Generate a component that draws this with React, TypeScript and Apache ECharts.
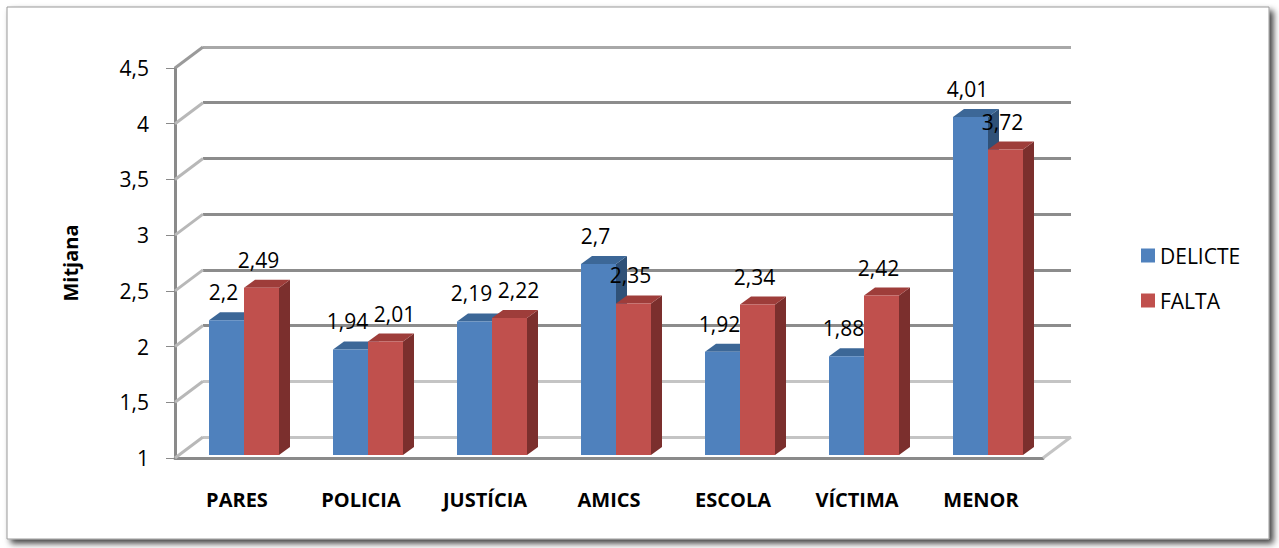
import React, { useEffect, useRef } from "react";
import * as echarts from "echarts";

const categories = ["PARES", "POLICIA", "JUSTÍCIA", "AMICS", "ESCOLA", "VÍCTIMA", "MENOR"];
const delicte = [2.2, 1.94, 2.19, 2.7, 1.92, 1.88, 4.01];
const falta = [2.49, 2.01, 2.22, 2.35, 2.34, 2.42, 3.72];
const yTicks = [1, 1.5, 2, 2.5, 3, 3.5, 4, 4.5];
const seriesNames = ["DELICTE", "FALTA"];

const FONT = "'Open Sans', Lato, 'Noto Sans', sans-serif";
const fmt = (v: number) => String(v).replace(".", ",");

const palette = [
  { front: "#4f81bd", top: "#3c6797", side: "#2f5178" },
  { front: "#c0504d", top: "#9e3d3a", side: "#7b2f2d" },
];

const BAR_W = 35;
const DX = 11;
const DY = -8;
const LABEL_UP = 28;
const LABEL_DX = -3;

function barRenderer(sIdx: number) {
  return (params: any, api: any) => {
    const idx = api.value(0);
    const v = api.value(1);
    const other = api.value(2);
    const top = api.coord([idx, v]);
    const base = api.coord([idx, 1]);
    const x0 = sIdx === 0 ? top[0] - BAR_W : top[0];
    const x1 = x0 + BAR_W;
    const yT = top[1];
    const yB = base[1];
    const c = palette[sIdx];
    let lx = (x0 + x1) / 2 + LABEL_DX;
    const ly = yT - LABEL_UP;
    if (sIdx === 1) {
      const oTop = api.coord([idx, other]);
      const oLx = x0 - BAR_W / 2 + LABEL_DX;
      const oLy = oTop[1] - LABEL_UP;
      if (Math.abs(oLy - ly) < 22) lx = Math.max(lx, oLx + 47);
    }
    return {
      type: "group",
      children: [
        {
          type: "polygon",
          shape: { points: [[x1, yT], [x1 + DX, yT + DY], [x1 + DX, yB + DY], [x1, yB]] },
          style: { fill: c.side },
        },
        {
          type: "polygon",
          shape: { points: [[x0, yT], [x0 + DX, yT + DY], [x1 + DX, yT + DY], [x1, yT]] },
          style: { fill: c.top },
        },
        {
          type: "rect",
          shape: { x: x0, y: yT, width: BAR_W, height: yB - yT },
          style: { fill: c.front },
        },
        {
          type: "text",
          x: lx,
          y: ly,
          style: {
            text: fmt(v),
            fill: "#000",
            font: `21px ${FONT}`,
            align: "center",
            verticalAlign: "middle",
          },
        },
      ],
    };
  };
}

export default function App() {
  const ref = useRef<HTMLDivElement>(null);
  useEffect(() => {
    if (!ref.current) return;
    const chart = echarts.init(ref.current, null, { renderer: "svg" });
    const catAxisHidden = {
      type: "category",
      data: categories,
      show: false,
    };
    chart.setOption({
      animation: false,
      backgroundColor: "#ffffff",
      textStyle: { fontFamily: FONT },
      graphic: [
        {
          type: "rect",
          shape: { x: 7, y: 7, width: 1262, height: 532 },
          style: {
            fill: "#ffffff",
            stroke: "#9a9a9a",
            lineWidth: 1,
            shadowColor: "rgba(0,0,0,0.75)",
            shadowBlur: 6,
            shadowOffsetX: 4,
            shadowOffsetY: 4,
          },
          z: -10,
          silent: true,
        },
      ],
      legend: {
        orient: "vertical",
        left: 1136,
        top: 240,
        itemWidth: 14,
        itemHeight: 14,
        itemGap: 24,
        icon: "rect",
        data: seriesNames,
        textStyle: { fontSize: 21, color: "#000", fontFamily: FONT },
      },
      grid: [
        { left: 175, top: 68, width: 868, height: 390 },
        { left: 203, top: 47, width: 868, height: 390 },
        { left: 182, top: 62, width: 868, height: 393 },
      ],
      xAxis: [
        {
          gridIndex: 0,
          type: "category",
          data: categories,
          axisLine: { show: true, lineStyle: { color: "#8a8a8a", width: 3 } },
          axisTick: { show: false },
          axisLabel: {
            margin: 31,
            fontSize: 20,
            fontWeight: "bold",
            color: "#000",
            fontFamily: FONT,
          },
        },
        { gridIndex: 1, ...catAxisHidden },
        { gridIndex: 2, ...catAxisHidden },
      ],
      yAxis: [
        {
          gridIndex: 0,
          type: "value",
          min: 1,
          max: 4.5,
          interval: 0.5,
          name: "Mitjana",
          nameLocation: "middle",
          nameGap: 95,
          nameTextStyle: { fontSize: 20, fontWeight: "bold", color: "#000", fontFamily: FONT },
          axisLine: { show: true, lineStyle: { color: "#8a8a8a", width: 3 } },
          axisTick: { show: true, length: 9, lineStyle: { color: "#8a8a8a", width: 1 } },
          axisLabel: {
            margin: 26,
            fontSize: 21,
            color: "#000",
            fontFamily: FONT,
            formatter: (v: number) => fmt(v),
          },
          splitLine: { show: false },
        },
        {
          gridIndex: 1,
          type: "value",
          min: 1,
          max: 4.5,
          interval: 0.5,
          axisLine: { show: false },
          axisTick: { show: false },
          axisLabel: { show: false },
          splitLine: {
            show: true,
            lineStyle: {
              width: 3,
              color: ["#c4c4c4", "#c4c4c4", "#8c8c8c", "#8c8c8c", "#8c8c8c", "#8c8c8c", "#8c8c8c", "#a8a8a8"],
            },
          },
        },
        {
          gridIndex: 2,
          type: "value",
          min: 1,
          max: 4.5,
          show: false,
          splitLine: { show: false },
        },
      ],
      series: [
        {
          type: "custom",
          name: "walls",
          xAxisIndex: 0,
          yAxisIndex: 0,
          silent: true,
          z: 1,
          data: yTicks.map((t) => [0, t]),
          renderItem: (params: any, api: any) => {
            const cs = params.coordSys;
            const p = api.coord([0, api.value(1)]);
            const children: any[] = [
              {
                type: "line",
                shape: { x1: cs.x, y1: p[1], x2: cs.x + 28, y2: p[1] - 21 },
                style: { stroke: api.value(1) === 4.5 ? "#9a9a9a" : "#b8b8b8", lineWidth: 3 },
              },
            ];
            if (api.value(1) === 1) {
              children.push({
                type: "line",
                shape: { x1: cs.x + cs.width, y1: p[1], x2: cs.x + cs.width + 28, y2: p[1] - 21 },
                style: { stroke: "#c4c4c4", lineWidth: 3 },
              });
            }
            return { type: "group", children };
          },
        },
        {
          type: "custom",
          name: seriesNames[0],
          xAxisIndex: 2,
          yAxisIndex: 2,
          z: 3,
          itemStyle: { color: palette[0].front },
          data: delicte.map((v, i) => [i, v, falta[i]]),
          renderItem: barRenderer(0),
        },
        {
          type: "custom",
          name: seriesNames[1],
          xAxisIndex: 2,
          yAxisIndex: 2,
          z: 4,
          itemStyle: { color: palette[1].front },
          data: falta.map((v, i) => [i, v, delicte[i]]),
          renderItem: barRenderer(1),
        },
      ],
    });
    return () => chart.dispose();
  }, []);
  return (
    <div
      ref={ref}
      style={{ position: "absolute", left: 0, top: 0, width: 1279, height: 548 }}
    />
  );
}
